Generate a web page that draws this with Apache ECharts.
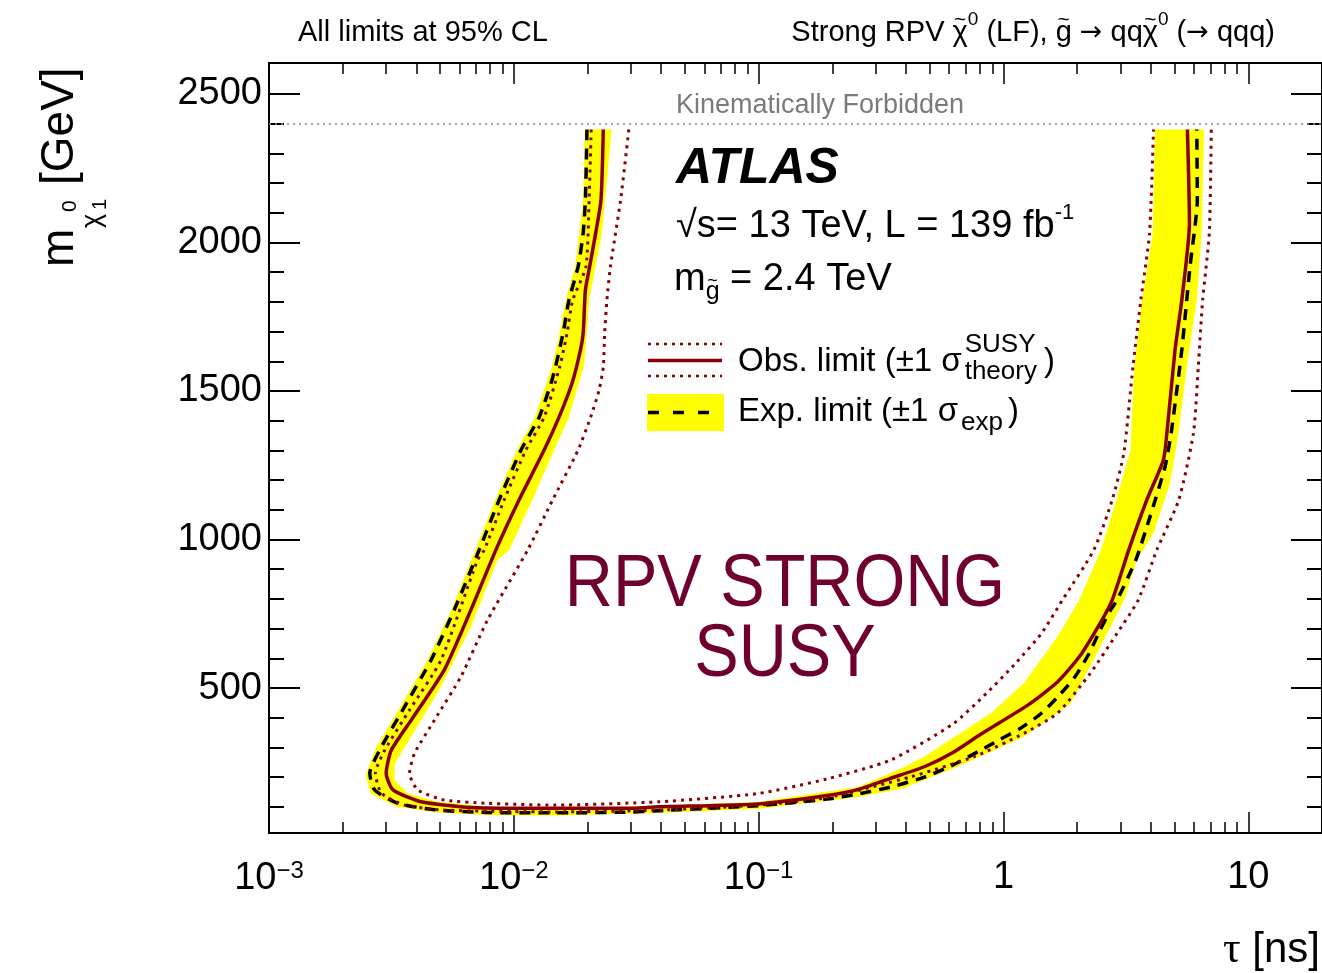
<!DOCTYPE html>
<html>
<head>
<meta charset="utf-8">
<script src="https://cdn.jsdelivr.net/npm/echarts@6/dist/echarts.min.js"></script>
<style>
  html, body { margin: 0; padding: 0; background: #fff; }
  #chart { width: 1322px; height: 973px; }
</style>
</head>
<body>
<div id="chart"></div>
<script>
// ---- Axis ticks -------------------------------------------------------
const tauLabelExps = [-3, -2, -1, 0, 1];            // decades labelled on the lifetime axis
const tauMinorMultipliers = [2, 3, 4, 5, 6, 7, 8, 9];
const massLabelTicks = [500, 1000, 1500, 2000, 2500];
const massMinorTicks = [100, 200, 300, 400, 600, 700, 800, 900, 1100, 1200, 1300, 1400,
  1600, 1700, 1800, 1900, 2100, 2200, 2300, 2400];
const forbiddenMass = 2400;                          // m(gluino) = 2.4 TeV

// ---- Exclusion contours: lifetime tau [ns] vs neutralino mass [GeV] -----
// Expected limit (median)
const expTau  = [0.0199, 0.0196, 0.0192, 0.0183, 0.0168, 0.0159, 0.0148, 0.0142, 0.0127, 0.0107,
  0.00871, 0.00722, 0.00571, 0.00459, 0.00358, 0.00288, 0.00258, 0.00270, 0.00336, 0.00489,
  0.00781, 0.0146, 0.0286, 0.0390, 0.0996, 0.190, 0.254, 0.347, 0.475, 0.622,
  0.788, 0.960, 1.17, 1.43, 1.67, 1.96, 2.24, 2.48, 2.74, 2.91,
  3.47, 3.97, 4.57, 4.84, 5.35, 5.78, 6.19, 6.16];
const expMass = [2380, 2143, 2032, 1918, 1806, 1695, 1581, 1527, 1412, 1301,
  1133, 965, 763, 594, 437, 302, 213, 157, 112, 89,
  81, 80, 82, 87, 104, 126, 143, 167, 200, 241,
  286, 325, 364, 415, 471, 538, 617, 695, 763, 796,
  931, 1077, 1245, 1358, 1638, 1919, 2143, 2380];

// Observed limit
const obsTau  = [0.0232, 0.0227, 0.0216, 0.0204, 0.0196, 0.0192, 0.0186, 0.0173, 0.0153, 0.0133,
  0.0105, 0.00845, 0.00668, 0.00520, 0.00381, 0.00316, 0.00301, 0.00321, 0.00418, 0.00668,
  0.0146, 0.0286, 0.0390, 0.0996, 0.190, 0.254, 0.343, 0.475, 0.622, 0.810, 1.27,
  1.67, 2.04, 2.48, 2.78, 3.25, 3.85, 4.50, 4.65, 5.02, 5.35, 5.75, 5.64];
const obsMass = [2380, 2143, 2032, 1918, 1840, 1695, 1628, 1527, 1412, 1301,
  1133, 965, 763, 561, 392, 291, 213, 157, 117, 98,
  95, 95, 100, 110, 138, 158, 195, 235, 283, 345, 445,
  522, 605, 718, 796, 965, 1133, 1268, 1358, 1638, 1806, 2065, 2380];

// Observed limit, -1 sigma theory (weaker exclusion)
const obsDnTau  = [0.0295, 0.0273, 0.0248, 0.0240, 0.0235, 0.0232, 0.0223, 0.0206, 0.0183, 0.0144,
  0.0114, 0.00781, 0.00608, 0.00474, 0.00393, 0.00375, 0.00405, 0.00520, 0.00781, 0.0146,
  0.0390, 0.0996, 0.190, 0.347, 0.622, 0.852, 1.12, 1.43,
  1.74, 2.34, 2.78, 3.10, 3.38, 3.64, 3.95, 4.10];
const obsDnMass = [2380, 2143, 1918, 1806, 1695, 1581, 1503, 1412, 1301, 1133,
  965, 729, 538, 392, 280, 213, 157, 123, 112, 106,
  117, 145, 194, 258, 379, 482, 583, 684,
  796, 965, 1133, 1290, 1582, 1806, 2031, 2380];

// Observed limit, +1 sigma theory (stronger exclusion)
const obsUpTau  = [0.0207, 0.0203, 0.0197, 0.0174, 0.0165, 0.0154, 0.0133, 0.0112, 0.00913, 0.00757,
  0.00711, 0.00504, 0.00375, 0.00297, 0.00272, 0.00288, 0.00358, 0.00520, 0.0146, 0.0390,
  0.0996, 0.190, 0.418, 0.759, 1.21, 1.66, 2.26, 2.91, 3.55, 4.23,
  5.20, 5.97, 6.25, 6.51, 6.93, 7.06];
const obsUpMass = [2380, 2143, 1918, 1806, 1695, 1581, 1412, 1301, 1133, 965,
  931, 594, 426, 291, 213, 146, 106, 89, 83, 89,
  106, 131, 201, 269, 347, 415, 549, 684, 796, 965,
  1133, 1358, 1582, 1806, 2031, 2380];

// Expected +1 sigma edge of the band (stronger exclusion)
const bandHiTau  = [0.0195, 0.0192, 0.0178, 0.0163, 0.0154, 0.0143, 0.0122, 0.0103, 0.00839, 0.00696,
  0.00556, 0.00444, 0.00344, 0.00275, 0.00248, 0.00260, 0.00329, 0.00489, 0.00780, 0.0146,
  0.0390, 0.0996, 0.254, 0.387, 0.649, 1.21, 1.88, 2.41, 3.11, 3.51,
  4.10, 4.79, 5.19, 5.61, 6.16, 6.45, 6.59];
const bandHiMass = [2380, 2143, 1918, 1806, 1695, 1581, 1412, 1301, 1133, 965,
  763, 594, 437, 302, 207, 146, 101, 81, 73, 71,
  79, 94, 133, 162, 235, 336, 448, 617, 796, 931,
  1021, 1189, 1358, 1582, 1806, 2031, 2380];

// Expected -1 sigma edge of the band (weaker exclusion)
const bandLoTau  = [0.0251, 0.0229, 0.0203, 0.0199, 0.0193, 0.0168, 0.0146, 0.0119, 0.00957, 0.00858,
  0.00668, 0.00504, 0.00381, 0.00326, 0.00326, 0.00369, 0.00489, 0.00781, 0.0146, 0.0390,
  0.0996, 0.254, 0.370, 0.475, 0.887, 1.21, 1.66, 2.04, 2.50, 2.86,
  3.30, 3.42, 3.68, 4.07, 4.16];
const bandLoMass = [2380, 2032, 1806, 1695, 1582, 1412, 1301, 1133, 965, 931,
  706, 504, 336, 246, 190, 145, 117, 100, 96, 103,
  116, 167, 224, 269, 415, 516, 673, 796, 965, 1120,
  1300, 1582, 1806, 2031, 2380];

// ---- Helpers --------------------------------------------------------------
const FONT = '"Liberation Sans", Arial, Helvetica, sans-serif';
const SERIF = '"Liberation Serif", "Times New Roman", serif';
const ARROW_FONT = '"DejaVu Sans", sans-serif';
const OBS_RED = '#8a0000';
const TAU_MIN = -3, TAU_MAX = Math.log10(20);      // lifetime axis in log10(tau)
const MASS_MIN = 12, MASS_MAX = 2604;

const toPoints = (taus, masses) => taus.map((t, i) => [Math.log10(t), masses[i]]);
const tauMinorTicks = [];
tauLabelExps.forEach(d => tauMinorMultipliers.forEach(k => {
  const v = Math.log10(k) + d;
  if (v < TAU_MAX) tauMinorTicks.push(v);
}));

const bandPolygon = toPoints(bandHiTau, bandHiMass)
  .concat(toPoints(bandLoTau, bandLoMass).reverse());

const tauLabel = v => {
  const n = Math.round(v);
  if (n === 0) return '{b|1}';
  if (n === 1) return '{b|10}';
  return '{b|10}{s|\u2212' + (-n) + '}';
};

// text measuring, used to lay out runs with super/subscripts on a baseline
const measureCtx = document.createElement('canvas').getContext('2d');
function textWidth(t, size, fam, weight, style) {
  measureCtx.font = (style || 'normal') + ' ' + (weight || 'normal') + ' ' + size + 'px ' + fam;
  return measureCtx.measureText(t).width;
}
function textRun(x, baseline, pieces, opts) {
  opts = opts || {};
  const baseSize = opts.size || 30;
  const fill = opts.fill || '#000';
  const items = [];
  let cursor = 0, prevStart = 0, prevW = 0;
  pieces.forEach(p => {
    const size = p.size || baseSize;
    const fam = p.fam || FONT;
    const weight = p.weight || opts.weight || 'normal';
    const style = p.style || opts.style || 'normal';
    const w = textWidth(p.t, size, fam, weight, style);
    const start = p.stack ? prevStart : cursor + (p.gap || 0);
    items.push({ p, size, fam, weight, style, start, w });
    cursor = p.stack ? prevStart + Math.max(prevW, w) : start + w;
    prevStart = start; prevW = w;
  });
  const x0 = opts.align === 'right' ? x - cursor : (opts.align === 'center' ? x - cursor / 2 : x);
  const els = [];
  items.forEach(it => {
    const by = baseline + (it.p.dy || 0);
    els.push({
      type: 'text', silent: true, x: x0 + it.start, y: by - 0.35 * it.size + (it.p.ady || 0),
      style: { text: it.p.t, fontSize: it.size, fontFamily: it.fam, fontWeight: it.weight,
        fontStyle: it.style, fill: fill, textAlign: 'left', align: 'left',
        textVerticalAlign: 'middle', verticalAlign: 'middle' }
    });
    if (it.p.over) {
      els.push({
        type: 'text', silent: true, x: x0 + it.start + it.w / 2, y: by - 0.8 * it.size,
        style: { text: '~', fontSize: it.size * 0.72, fontFamily: FONT, fill: fill,
          textAlign: 'center', align: 'center', textVerticalAlign: 'middle', verticalAlign: 'middle' }
      });
    }
  });
  return els;
}

const txt = (x, y, text, size, extraStyle, extra) => Object.assign({
  type: 'text', x: x, y: y, silent: true,
  style: Object.assign({
    text: text, fontSize: size, fontFamily: FONT, fill: '#000',
    textAlign: 'left', align: 'left', textVerticalAlign: 'middle', verticalAlign: 'middle'
  }, extraStyle || {})
}, extra || {});

const xBase = (extra) => Object.assign({
  type: 'value', min: TAU_MIN, max: TAU_MAX,
  splitLine: { show: false },
  axisLine: { show: true, onZero: false, lineStyle: { color: '#000', width: 2 } },
  axisLabel: { show: false },
  axisPointer: { show: false }
}, extra);
const yBase = (extra) => Object.assign({
  type: 'value', min: MASS_MIN, max: MASS_MAX,
  splitLine: { show: false },
  axisLine: { show: true, onZero: false, lineStyle: { color: '#000', width: 2 } },
  axisLabel: { show: false },
  axisPointer: { show: false }
}, extra);

const option = {
  animation: false,
  backgroundColor: '#fff',
  grid: { left: 269, top: 63, width: 1057, height: 770, containLabel: false },
  xAxis: [
    xBase({
      position: 'bottom',
      axisTick: { show: true, inside: true, length: 21, customValues: tauLabelExps,
        lineStyle: { color: '#000', width: 1.5 } },
      axisLabel: {
        show: true, customValues: tauLabelExps, margin: 26, formatter: tauLabel,
        rich: {
          b: { fontSize: 38, fontFamily: FONT, color: '#000' },
          s: { fontSize: 24, fontFamily: FONT, color: '#000', padding: [0, 0, 16, 0] }
        }
      }
    }),
    xBase({
      position: 'bottom',
      axisTick: { show: true, inside: true, length: 11, customValues: tauMinorTicks,
        lineStyle: { color: '#000', width: 1.5 } }
    }),
    xBase({
      position: 'top',
      axisTick: { show: true, inside: true, length: 21, customValues: tauLabelExps,
        lineStyle: { color: '#000', width: 1.5 } }
    }),
    xBase({
      position: 'top',
      axisTick: { show: true, inside: true, length: 11, customValues: tauMinorTicks,
        lineStyle: { color: '#000', width: 1.5 } }
    })
  ],
  yAxis: [
    yBase({
      position: 'left',
      axisTick: { show: true, inside: true, length: 31, customValues: massLabelTicks,
        lineStyle: { color: '#000', width: 2 } },
      axisLabel: { show: true, customValues: massLabelTicks, margin: 7,
        formatter: v => String(Math.round(v)),
        fontSize: 38, fontFamily: FONT, color: '#000' }
    }),
    yBase({
      position: 'left',
      axisTick: { show: true, inside: true, length: 15, customValues: massMinorTicks,
        lineStyle: { color: '#000', width: 2 } }
    }),
    yBase({
      position: 'right',
      axisTick: { show: true, inside: true, length: 31, customValues: massLabelTicks,
        lineStyle: { color: '#000', width: 2 } }
    }),
    yBase({
      position: 'right',
      axisTick: { show: true, inside: true, length: 15, customValues: massMinorTicks,
        lineStyle: { color: '#000', width: 2 } }
    })
  ],
  series: [
    {
      // expected +-1 sigma band, drawn as a closed area between its two edges
      type: 'custom', name: 'expBand', xAxisIndex: 0, yAxisIndex: 0,
      data: [[-1, 1000]], silent: true, clip: true, z: 1,
      renderItem: (params, api) => ({
        type: 'polygon',
        shape: { points: bandPolygon.map(p => api.coord(p)) },
        style: { fill: '#ffff00', stroke: null }
      })
    },
    {
      type: 'line', name: 'Exp. limit', data: toPoints(expTau, expMass),
      symbol: 'none', smooth: 0.2, z: 3, silent: true,
      lineStyle: { color: '#000', width: 3.5, type: [11, 8] },
      markLine: {
        silent: true, symbol: 'none', label: { show: false },
        lineStyle: { color: '#888', width: 1.5, type: [2, 4] },
        data: [{ yAxis: forbiddenMass }]
      }
    },
    {
      type: 'line', name: 'Obs -1sigma', data: toPoints(obsDnTau, obsDnMass),
      symbol: 'none', smooth: 0.2, z: 4, silent: true,
      lineStyle: { color: OBS_RED, width: 3, type: [3, 5] }
    },
    {
      type: 'line', name: 'Obs +1sigma', data: toPoints(obsUpTau, obsUpMass),
      symbol: 'none', smooth: 0.2, z: 4, silent: true,
      lineStyle: { color: OBS_RED, width: 3, type: [3, 5] }
    },
    {
      type: 'line', name: 'Obs. limit', data: toPoints(obsTau, obsMass),
      symbol: 'none', smooth: 0.2, z: 5, silent: true,
      lineStyle: { color: OBS_RED, width: 3.5 }
    }
  ],
  graphic: [].concat(
    textRun(298, 43, [{ t: 'All limits at 95% CL' }], { size: 29 }),
    textRun(1275, 43, [
      { t: 'Strong RPV ' }, { t: '\u03c7', over: true }, { t: '0', size: 19, dy: -17 },
      { t: ' (LF), ' }, { t: 'g', over: true }, { t: ' ' },
      { t: '\u2192', fam: ARROW_FONT, size: 27, ady: -1 }, { t: ' qq' },
      { t: '\u03c7', over: true }, { t: '0', size: 19, dy: -17 }, { t: ' (' },
      { t: '\u2192', fam: ARROW_FONT, size: 27, ady: -1 }, { t: ' qqq)' }
    ], { size: 29, align: 'right' }),
    [txt(820, 106, 'Kinematically Forbidden', 27, { fill: '#7a7a7a', textAlign: 'center', align: 'center' })],
    textRun(676, 187, [{ t: 'ATLAS' }], { size: 50, weight: 'bold', style: 'italic' }),
    textRun(676, 240, [{ t: '\u221as= 13 TeV, L = 139 fb' }, { t: '-1', size: 22, dy: -19 }], { size: 38 }),
    textRun(674, 293, [{ t: 'm' }, { t: 'g', size: 25, dy: 8, over: true }, { t: ' = 2.4 TeV' }], { size: 38 }),

    // legend symbols
    [
      { type: 'line', silent: true, shape: { x1: 648, y1: 344, x2: 722, y2: 344 },
        style: { stroke: OBS_RED, lineWidth: 2.5, lineDash: [3, 5] } },
      { type: 'line', silent: true, shape: { x1: 648, y1: 360.5, x2: 722, y2: 360.5 },
        style: { stroke: OBS_RED, lineWidth: 3.5 } },
      { type: 'line', silent: true, shape: { x1: 648, y1: 376, x2: 722, y2: 376 },
        style: { stroke: OBS_RED, lineWidth: 2.5, lineDash: [3, 5] } },
      { type: 'rect', silent: true, shape: { x: 647, y: 394, width: 77, height: 37 },
        style: { fill: '#ffff00' } },
      { type: 'line', silent: true, shape: { x1: 648, y1: 412.5, x2: 722, y2: 412.5 },
        style: { stroke: '#000', lineWidth: 3.5, lineDash: [11, 14] } }
    ],

    // legend text
    textRun(738, 373, [
      { t: 'Obs. limit (\u00b11 \u03c3' }, { t: 'SUSY', size: 26, dy: -19, gap: 3 },
      { t: 'theory', size: 26, dy: 8, stack: true }, { t: ')', gap: 7 }
    ], { size: 33 }),
    textRun(738, 423, [
      { t: 'Exp. limit (\u00b11 \u03c3' }, { t: 'exp', size: 26, dy: 9, gap: 3 }, { t: ')', gap: 5 }
    ], { size: 33 }),

    // region label
    [
      txt(785, 586, 'RPV STRONG', 74, { fill: '#700030', textAlign: 'center', align: 'center' }, { scaleX: 0.9 }),
      txt(785, 656, 'SUSY', 74, { fill: '#700030', textAlign: 'center', align: 'center' }, { scaleX: 0.9 })
    ],

    // y-axis title, reading bottom to top
    [{
      type: 'group', x: 76, y: 267, rotation: Math.PI / 2, silent: true,
      children: [
        txt(0, -16, 'm', 46),
        txt(39, 17, '\u03c7', 27),
        txt(55, -6, '0', 21),
        txt(57, 24, '1', 20),
        txt(82, -16, '[GeV]', 46)
      ]
    }],

    // x-axis title
    [txt(1320, 950, '{t|\u03c4} [ns]', 42, {
      textAlign: 'right', align: 'right',
      rich: { t: { fontSize: 44, fontFamily: SERIF, fill: '#000' } }
    })]
  )
};

const chart = echarts.init(document.getElementById('chart'), null, { renderer: 'canvas' });
chart.setOption(option);
</script>
</body>
</html>
